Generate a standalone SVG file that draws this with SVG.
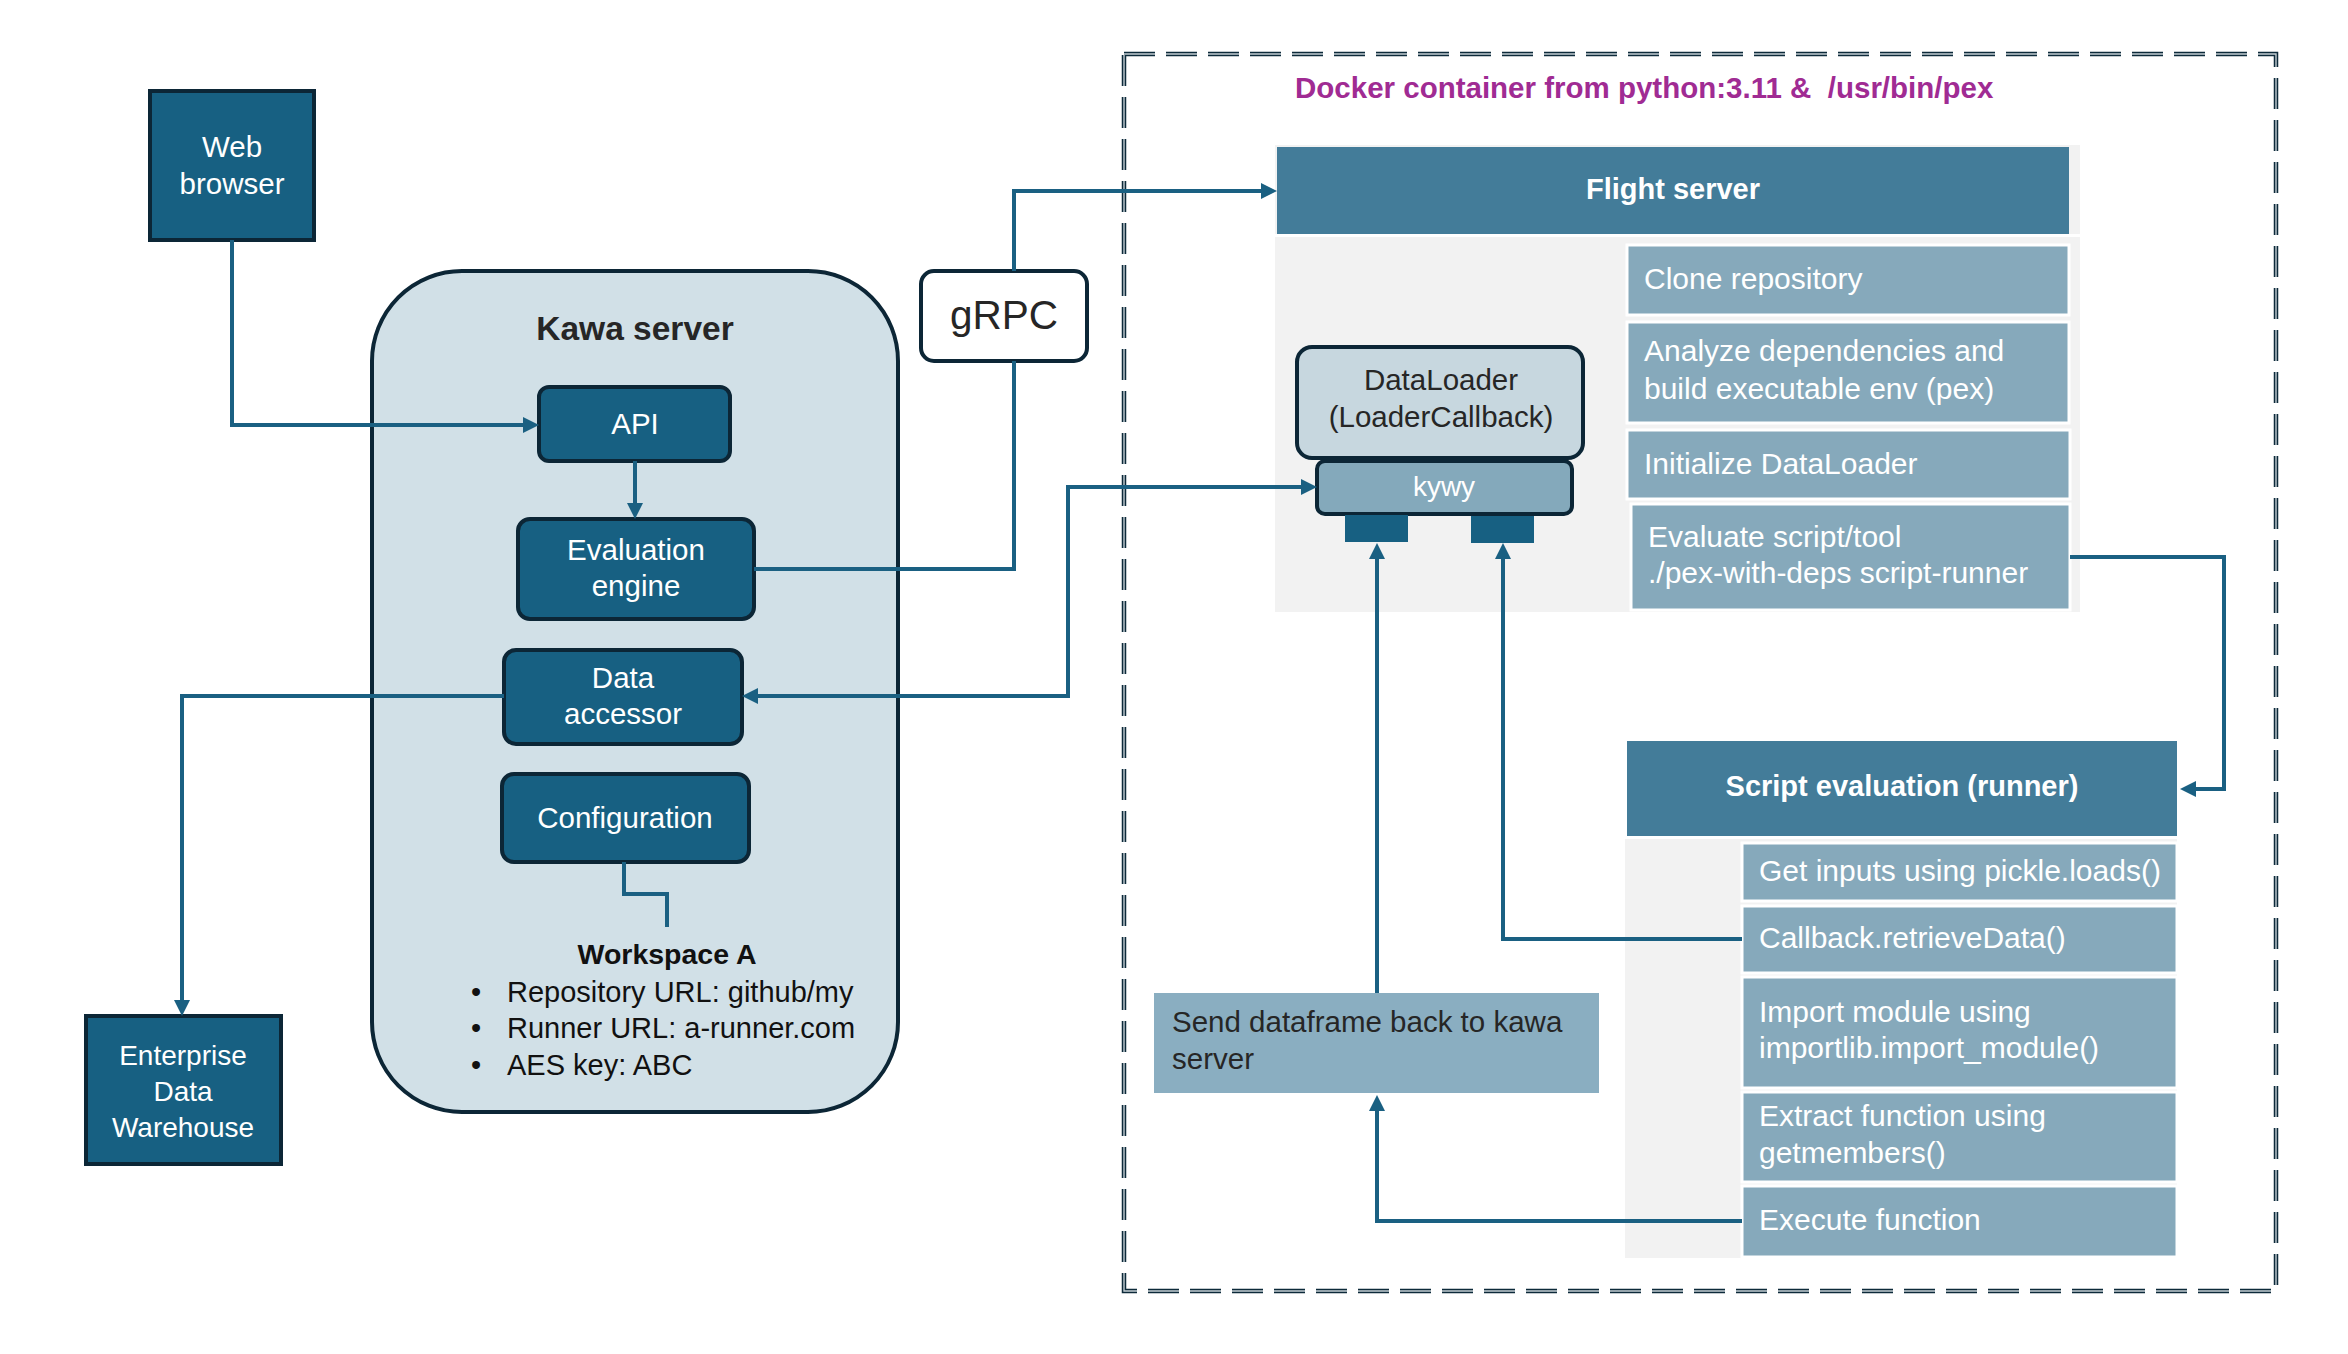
<svg xmlns="http://www.w3.org/2000/svg" width="2348" height="1354" viewBox="0 0 2348 1354">
<defs>
<style>
text{font-family:"Liberation Sans",Arial,sans-serif;}
.node{fill:#176082;stroke:#0c2636;stroke-width:4;}
.wt{fill:#ffffff;font-size:29.5px;text-anchor:middle;}
.dk{fill:#262626;font-size:29.5px;}
.hdr{fill:#437c99;}
.hdrt{fill:#ffffff;font-size:29px;font-weight:bold;text-anchor:middle;}
.step{fill:#86a9bb;stroke:#ffffff;stroke-width:3;}
.stept{fill:#ffffff;font-size:30px;}
.ws{fill:#111111;font-size:29px;}
.panel{fill:#f2f2f2;}
.conn{fill:none;stroke:#1a6082;stroke-width:4;}
.sq{fill:#176082;}
</style>
<marker id="arr" markerUnits="userSpaceOnUse" markerWidth="16" markerHeight="16" refX="8" refY="8" orient="auto-start-reverse" viewBox="0 0 16 16">
<path d="M0,0 L16,8 L0,16 z" fill="#1a6082"/>
</marker>
</defs>
<rect width="2348" height="1354" fill="#ffffff"/>

<g id="docker-container">
<rect x="1124" y="54" width="1152" height="1237" fill="none" stroke="#0d2a3a" stroke-width="4.5" stroke-dasharray="31 11"/>
<rect x="1124" y="54" width="1152" height="1237" fill="none" stroke="#c4ced3" stroke-width="1.4" stroke-dasharray="31 11"/>
<text x="1295" y="98" fill="#a02b93" font-size="29.5" font-weight="bold" xml:space="preserve" style="white-space:pre">Docker container from python:3.11 &amp;  /usr/bin/pex</text>
</g>

<g id="kawa-server">
<rect x="372" y="271" width="526" height="841" rx="90" ry="90" fill="#d1e0e7" stroke="#0c2636" stroke-width="4"/>
<text x="635" y="340" fill="#262626" font-size="33.5" font-weight="bold" text-anchor="middle">Kawa server</text>
</g>

<g id="web-browser">
<rect class="node" x="150" y="91" width="164" height="149"/>
<text class="wt" x="232" y="157">Web</text>
<text class="wt" x="232" y="194">browser</text>
</g>

<g id="api">
<rect class="node" x="539" y="387" width="191" height="74" rx="10"/>
<text class="wt" x="635" y="434">API</text>
</g>

<g id="evaluation-engine">
<rect class="node" x="518" y="519" width="236" height="100" rx="12"/>
<text class="wt" x="636" y="560">Evaluation</text>
<text class="wt" x="636" y="596">engine</text>
</g>

<g id="data-accessor">
<rect class="node" x="504" y="650" width="238" height="94" rx="12"/>
<text class="wt" x="623" y="688">Data</text>
<text class="wt" x="623" y="724">accessor</text>
</g>

<g id="configuration">
<rect class="node" x="502" y="774" width="247" height="88" rx="12"/>
<text class="wt" x="625" y="828">Configuration</text>
</g>

<g id="workspace-a">
<text x="667" y="964" fill="#111111" font-size="28.5" font-weight="bold" text-anchor="middle">Workspace A</text>
<text class="ws" x="476" y="1002" text-anchor="middle">•</text>
<text class="ws" x="507" y="1002">Repository URL: github/my</text>
<text class="ws" x="476" y="1038" text-anchor="middle">•</text>
<text class="ws" x="507" y="1038">Runner URL: a-runner.com</text>
<text class="ws" x="476" y="1075" text-anchor="middle">•</text>
<text class="ws" x="507" y="1075">AES key: ABC</text>
</g>

<g id="enterprise-data-warehouse">
<rect class="node" x="86" y="1016" width="195" height="148"/>
<text class="wt" x="183" y="1065" style="font-size:28px">Enterprise</text>
<text class="wt" x="183" y="1101" style="font-size:28px">Data</text>
<text class="wt" x="183" y="1137" style="font-size:28px">Warehouse</text>
</g>

<g id="grpc">
<rect x="921" y="271" width="166" height="90" rx="13" fill="#ffffff" stroke="#0c2636" stroke-width="4"/>
<text x="1004" y="329" fill="#262626" font-size="40.5" text-anchor="middle">gRPC</text>
</g>

<g id="flight-server">
<rect class="panel" x="1275" y="145" width="805" height="467"/>
<rect class="hdr" x="1277" y="147" width="792" height="87"/>
<line x1="1275" y1="235.5" x2="2080" y2="235.5" stroke="#ffffff" stroke-width="3"/>
<text class="hdrt" x="1673" y="199">Flight server</text>
<g id="step-clone">
<rect class="step" x="1627" y="245" width="442" height="70"/>
<text class="stept" x="1644" y="289">Clone repository</text>
</g>
<g id="step-analyze">
<rect class="step" x="1627" y="322" width="442" height="101"/>
<text class="stept" x="1644" y="361">Analyze dependencies and</text>
<text class="stept" x="1644" y="399">build executable env (pex)</text>
</g>
<g id="step-initialize">
<rect class="step" x="1627" y="430" width="443" height="69"/>
<text class="stept" x="1644" y="474">Initialize DataLoader</text>
</g>
<g id="step-evaluate">
<rect class="step" x="1631" y="504" width="439" height="106"/>
<text class="stept" x="1648" y="547">Evaluate script/tool</text>
<text class="stept" x="1648" y="583">./pex-with-deps script-runner</text>
</g>
</g>

<g id="dataloader">
<rect x="1297" y="347" width="286" height="111" rx="15" fill="#c7d7df" stroke="#0c2636" stroke-width="4"/>
<text class="dk" x="1441" y="390" text-anchor="middle">DataLoader</text>
<text class="dk" x="1441" y="427" text-anchor="middle">(LoaderCallback)</text>
</g>

<g id="kywy">
<rect x="1317" y="461" width="255" height="53" rx="8" fill="#84a9bb" stroke="#0c2636" stroke-width="4"/>
<text class="wt" x="1444" y="496" style="font-size:28px">kywy</text>
<rect class="sq" x="1345" y="515" width="63" height="27"/>
<rect class="sq" x="1471" y="516" width="63" height="27"/>
</g>

<g id="script-evaluation">
<rect class="panel" x="1625" y="839" width="552" height="419"/>
<rect class="hdr" x="1627" y="741" width="550" height="95"/>
<text class="hdrt" x="1902" y="796">Script evaluation (runner)</text>
<g id="step-get-inputs">
<rect class="step" x="1742" y="843" width="435" height="58"/>
<text class="stept" x="1759" y="881">Get inputs using pickle.loads()</text>
</g>
<g id="step-callback">
<rect class="step" x="1742" y="906" width="435" height="67"/>
<text class="stept" x="1759" y="948">Callback.retrieveData()</text>
</g>
<g id="step-import">
<rect class="step" x="1742" y="977" width="435" height="111"/>
<text class="stept" x="1759" y="1022">Import module using</text>
<text class="stept" x="1759" y="1058">importlib.import_module()</text>
</g>
<g id="step-extract">
<rect class="step" x="1742" y="1092" width="435" height="90"/>
<text class="stept" x="1759" y="1126">Extract function using</text>
<text class="stept" x="1759" y="1163">getmembers()</text>
</g>
<g id="step-execute">
<rect class="step" x="1742" y="1186" width="435" height="71"/>
<text class="stept" x="1759" y="1230">Execute function</text>
</g>
</g>

<g id="send-dataframe">
<rect x="1154" y="993" width="445" height="100" fill="#8aaec1"/>
<text class="dk" x="1172" y="1032">Send dataframe back to kawa</text>
<text class="dk" x="1172" y="1069">server</text>
</g>

<g id="connectors">
<path class="conn" d="M232,240 V425 H531" marker-end="url(#arr)"/>
<path class="conn" d="M635,461 V511" marker-end="url(#arr)"/>
<path class="conn" d="M754,569 H1014 V361"/>
<path class="conn" d="M1014,271 V191 H1269" marker-end="url(#arr)"/>
<path class="conn" d="M750,696 H1068 V487 H1309" marker-start="url(#arr)" marker-end="url(#arr)"/>
<path class="conn" d="M504,696 H182 V1008" marker-end="url(#arr)"/>
<path class="conn" d="M624,862 V894 H667 V927"/>
<path class="conn" d="M2070,557 H2224 V789 H2188" marker-end="url(#arr)"/>
<path class="conn" d="M1742,939 H1503 V551" marker-end="url(#arr)"/>
<path class="conn" d="M1377,993 V551" marker-end="url(#arr)"/>
<path class="conn" d="M1742,1221 H1377 V1103" marker-end="url(#arr)"/>
</g>
</svg>
